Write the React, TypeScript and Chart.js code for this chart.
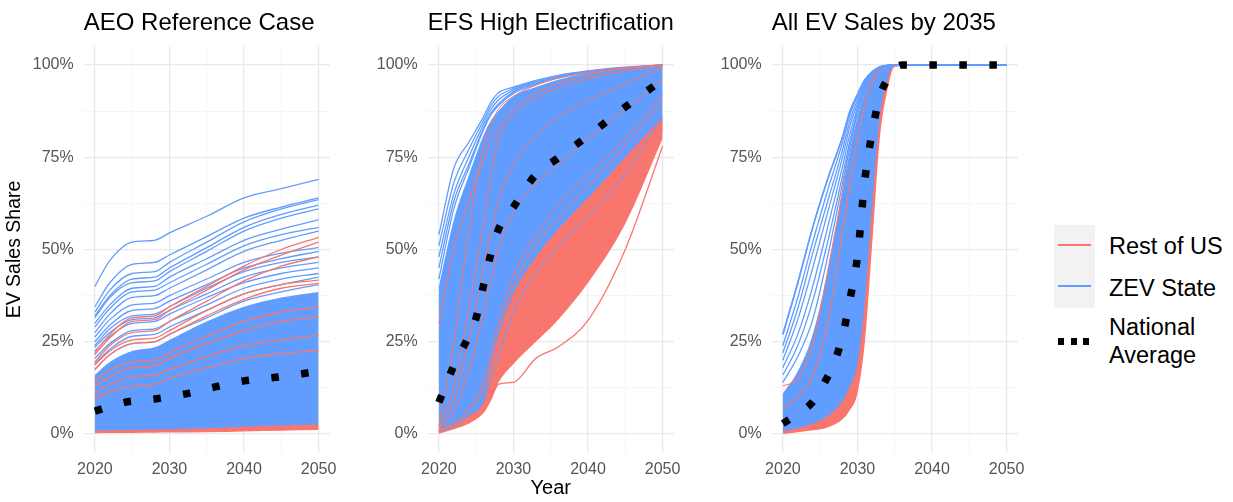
import { useEffect, useRef } from "react";
import { Chart, registerables } from "chart.js";

Chart.register(...registerables);

const RED = "#F8766D";
const BLUE = "#619CFF";
const FONT = "'Liberation Sans', Arial, Helvetica, sans-serif";

// axis ticks; the in-between ones only carry a faint grid line (ggplot minor grid)
const yearTicks = [2020, 2025, 2030, 2035, 2040, 2045, 2050];
const shareTicks = [0, 12.5, 25, 37.5, 50, 62.5, 75, 87.5, 100];

// ---------- AEO Reference Case (values in %) ----------
const aeoYears = [2020, 2022, 2025, 2028, 2030, 2035, 2040, 2045, 2050];
const aeoZevBandTop = [16, 19.5, 22.5, 23.5, 25.5, 30.5, 34.5, 37, 38.5];
const aeoZevBandBottom = [0.6, 0.7, 0.9, 1.0, 1.1, 1.4, 1.8, 2.1, 2.4];
const aeoZevLines = [
  [40, 47, 52, 52.5, 54.5, 59, 64, 66.5, 69],
  [34.5, 41, 46, 46.5, 48.5, 53.5, 58.5, 61.5, 64],
  [33, 39, 43.5, 44, 46.5, 52, 57.5, 61, 63.5],
  [32, 37.5, 42, 42.5, 45, 50.5, 56, 59.5, 62],
  [31.5, 37, 41, 41.5, 44, 49.5, 55, 58.5, 61],
  [30, 35, 39.5, 40, 42.5, 47.5, 52.5, 55.5, 58],
  [29, 34, 38.5, 39, 41, 46, 51, 54, 56],
  [27.5, 32.5, 37, 37.5, 39.5, 44.5, 49.5, 52.5, 55],
  [26.3, 31, 35, 35.5, 37.5, 42, 46.5, 49, 50.5],
  [25, 29.5, 33.5, 34, 36, 40.5, 45, 47.5, 49.5],
  [24, 28.5, 32, 32.5, 34.5, 39.5, 44, 46.5, 48],
  [23.5, 27.5, 31, 31.5, 33.5, 38, 42.5, 45, 46.5],
  [22.5, 26.5, 30, 30.5, 32.5, 37, 41, 43.5, 45],
  [20.5, 24.5, 28, 28.5, 30.5, 35, 39.5, 42, 43.5],
  [19, 23, 26.5, 27, 29, 33.5, 38, 40.5, 42.5],
  [17.5, 21.5, 24.5, 25, 27, 31.5, 36, 38.5, 40.5],
];
const aeoRestLines = [
  [22, 27, 31.5, 32, 34.5, 40, 45.5, 50, 53.3],
  [21.5, 26, 30.5, 31, 33.5, 39, 44.5, 48.5, 52],
  [19.5, 24, 27.5, 28, 30.5, 36, 41.5, 45.5, 48],
  [18.7, 22.5, 25.5, 26, 28, 33.5, 38, 40.5, 41.7],
  [17.5, 21.5, 24.5, 25, 27, 32, 36.5, 39.5, 40.8],
  [14.5, 17.5, 19.5, 20, 22, 26.5, 30.5, 33, 34.4],
  [13, 15.5, 18, 18.5, 20.5, 24.5, 28, 30.5, 31.7],
  [11, 13.5, 15.5, 16, 17.5, 21, 24, 25.5, 26.8],
  [9.5, 11.5, 13, 13.5, 15, 18, 20.5, 21.8, 22.7],
];
const aeoRestFloorTop = [0.9, 1.0, 1.1, 1.2, 1.3, 1.6, 2.0, 2.3, 2.6];
const aeoRestFloorBottom = [0.2, 0.25, 0.3, 0.35, 0.4, 0.5, 0.7, 0.9, 1.1];
const aeoAvgYears = [2020, 2024, 2028, 2032, 2036, 2040, 2044, 2048, 2050];
const aeoAvg = [6.2, 8.6, 9.5, 10.8, 12.7, 14.4, 15.3, 16.4, 17];

// ---------- EFS High Electrification ----------
const efsYears = [2020, 2022, 2024, 2026, 2027, 2028, 2030, 2033, 2036, 2040, 2045, 2050];
const efsZevBandTop = [40, 58, 70, 81, 85, 87.5, 91.5, 94, 96, 97.8, 99, 100];
const efsZevBandBottom = [0.8, 2, 3.6, 7, 10.5, 16, 21, 28, 35, 44, 60, 82];
const efsZevLines = [
  [54, 72, 79, 86, 90, 92.5, 94, 95.8, 97.2, 98.4, 99.4, 100],
  [51, 68, 77, 85, 89, 91.5, 93.6, 95.5, 97, 98.3, 99.3, 100],
  [48, 65, 75, 84, 88, 90.5, 93.2, 95.2, 96.8, 98.2, 99.2, 100],
  [45, 63, 73, 83, 87, 89.5, 92.7, 94.9, 96.6, 98, 99.1, 100],
  [42, 61, 72, 82.5, 86.5, 89, 92.3, 94.6, 96.4, 97.9, 99.1, 100],
];
const efsRestBandTop = [1.2, 2.6, 5, 9, 18, 26, 38, 48, 55.5, 64, 75, 86];
const efsRestBandBottom = [0.3, 1.5, 3, 6, 9.5, 14, 19, 25, 31, 41, 57, 80];
const efsRestStrands = [
  [0.8, 3, 7, 14, 22, 30, 43, 54, 62, 70, 80, 92],
  [0.6, 2.5, 6, 12, 19, 27, 40, 51, 58.5, 67, 78, 90],
];
const efsZevStrand = [0.5, 2.2, 5, 9, 15, 21, 33, 43.5, 51, 59, 70.5, 86];
const efsRestLines = [
  [30, 50, 63, 74, 79, 83, 88, 92.5, 95, 97.3, 99, 100],
  [2, 25, 55, 78, 84, 88, 91.5, 94.5, 96.5, 98, 99.3, 100],
  [1, 13, 34, 57, 70, 80, 86.5, 91, 93.8, 96.2, 98.3, 99.6],
  [0.8, 9, 25, 45, 55, 63, 73, 81, 86, 90.5, 95, 99],
  [0.6, 6, 17, 33, 42, 50, 60, 68, 73, 80, 88, 96],
];
const efsRestOutlier = [0.3, 1.5, 3, 6, 9.5, 13.5, 14, 20.5, 23.6, 30.8, 50, 78];
const efsAvgYears = [2020, 2022, 2024, 2025, 2026, 2027, 2028, 2030, 2033, 2036, 2040, 2045, 2050];
const efsAvg = [8.6, 18.5, 26.5, 31.5, 40.4, 49, 55.5, 61.5, 70.3, 74.8, 80.8, 88.6, 96];

// ---------- All EV Sales by 2035 ----------
const zevYears = [2020, 2022, 2024, 2026, 2028, 2029, 2030, 2031, 2032, 2033, 2034, 2035, 2040, 2045, 2050];
const zevZevBandTop = [11, 17, 27, 44, 66, 77, 86, 92.5, 96.5, 98.8, 99.7, 100, 100, 100, 100];
const zevZevBandBottom = [0.4, 1, 1.8, 3, 6, 9, 14, 30, 57, 83, 94.5, 100, 100, 100, 100];
const zevRestBandTop = [0.8, 1.6, 2.8, 4.8, 9, 13, 19, 36, 63, 86, 96, 100, 100, 100, 100];
const zevRestBandBottom = [0, 0.5, 1, 1.8, 4, 6.5, 11, 25, 52, 80, 93, 99.5, 100, 100, 100];
const zevZevLines = [
  [27, 41, 56, 69, 80.5, 87.5, 92, 96, 98.2, 99.5, 99.9, 100, 100, 100, 100],
  [24, 37, 52, 66, 79, 86.5, 91.5, 95.7, 98, 99.4, 99.9, 100, 100, 100, 100],
  [22, 34, 49, 63, 77, 85, 90.5, 95.2, 97.8, 99.3, 99.9, 100, 100, 100, 100],
  [20, 31, 45, 60, 75, 83.5, 89.5, 94.7, 97.6, 99.2, 99.8, 100, 100, 100, 100],
  [18, 27, 40, 56, 72.5, 81.5, 88.5, 94.2, 97.4, 99.1, 99.8, 100, 100, 100, 100],
  [16, 24, 36, 52, 70, 79.5, 87.5, 93.6, 97.2, 99, 99.8, 100, 100, 100, 100],
  [14, 21, 31, 48, 68, 78, 86.8, 93, 96.9, 98.9, 99.7, 100, 100, 100, 100],
];
const zevRestLines = [
  [13, 15, 24, 44, 66, 79, 87, 93, 96.5, 98.8, 99.7, 100, 100, 100, 100],
  [7, 10, 16, 30, 55, 68, 80, 89, 95, 98.5, 99.7, 100, 100, 100, 100],
];
const zevTopLine = [27, 41, 56, 69, 80.5, 87.5, 92, 96, 98.2, 99.5, 99.9, 100, 100, 100, 100];
const zevAvgYears = [2020, 2022, 2024, 2026, 2027, 2028, 2029, 2030, 2031, 2032, 2033, 2034, 2035, 2036, 2050];
const zevAvg = [2.8, 5.5, 8.7, 15.5, 20, 26.5, 36.5, 48, 69, 82, 91.5, 96, 99, 100, 100];

type Layer =
  | { kind: "band"; top: number[]; bottom: number[]; color: string }
  | { kind: "line"; values: number[]; color: string; width?: number };

type PanelProps = {
  left: number;
  title: string;
  years: number[];
  layers: Layer[]; // bottom layer first
  avgYears: number[];
  avg: number[];
  yTitle?: string;
  xTitle?: string;
};

const lines = (set: number[][], color: string, width?: number): Layer[] =>
  set.map((values) => ({ kind: "line", values, color, width }));

function Panel({ left, title, years, layers, avgYears, avg, yTitle, xTitle }: PanelProps) {
  const canvasRef = useRef<HTMLCanvasElement>(null);

  useEffect(() => {
    if (!canvasRef.current) return;
    const pts = (xs: number[], ys: number[]) => xs.map((x, i) => ({ x, y: ys[i] }));

    const stack: any[] = [];
    layers.forEach((layer) => {
      if (layer.kind === "band") {
        stack.push({ data: pts(years, layer.bottom), borderWidth: 0, borderColor: "rgba(0,0,0,0)", fill: false });
        stack.push({
          data: pts(years, layer.top),
          borderWidth: 0,
          borderColor: "rgba(0,0,0,0)",
          backgroundColor: layer.color,
          fill: "+1",
        });
      } else {
        stack.push({
          data: pts(years, layer.values),
          borderColor: layer.color,
          borderWidth: layer.width ?? 1.3,
          fill: false,
        });
      }
    });
    stack.push({
      data: pts(avgYears, avg),
      borderColor: "#000",
      borderWidth: 7.5,
      borderDash: [7.5, 22.5],
      borderCapStyle: "butt",
      fill: false,
    });
    // chart.js paints dataset 0 last, so flip to put the top layer first
    const datasets = stack.reverse().map((d) => ({
      pointRadius: 0,
      cubicInterpolationMode: "monotone",
      borderJoinStyle: "round",
      ...d,
    }));

    const gridColor = (major: (v: number) => boolean) => (ctx: any) =>
      major(ctx.tick?.value) ? "#e9e9e9" : "#f3f3f3";
    const gridWidth = (major: (v: number) => boolean) => (ctx: any) => (major(ctx.tick?.value) ? 1.3 : 0.8);
    const xMajor = (v: number) => v % 10 === 0;
    const yMajor = (v: number) => v % 25 === 0;

    const chart = new Chart(canvasRef.current, {
      type: "line",
      data: { datasets },
      options: {
        animation: false,
        responsive: false,
        events: [],
        layout: { padding: { left: 0, right: 11.7, top: 0, bottom: 0 } },
        plugins: {
          legend: { display: false },
          tooltip: { enabled: false },
          title: {
            display: true,
            text: title,
            align: "start",
            fullSize: false,
            color: "#000",
            font: { family: FONT, size: 24, weight: "normal", lineHeight: 1.2 },
            padding: { top: 9, bottom: 8.7 },
          },
        },
        scales: {
          x: {
            type: "linear",
            min: 2018.5,
            max: 2051.5,
            afterBuildTicks: (s: any) => {
              s.ticks = yearTicks.map((value) => ({ value }));
            },
            afterFit: (s: any) => {
              s.height = 49.5;
            },
            ticks: {
              callback: (v: any) => (xMajor(Number(v)) ? String(v) : ""),
              color: "#555",
              font: { family: FONT, size: 16 },
              padding: 7,
              maxRotation: 0,
              autoSkip: false,
            },
            grid: { color: gridColor(xMajor), lineWidth: gridWidth(xMajor), drawTicks: false },
            border: { display: false },
            title: {
              display: !!xTitle,
              text: xTitle ?? "",
              color: "#000",
              font: { family: FONT, size: 20 },
              padding: { top: 0, bottom: 1.5 },
            },
          },
          y: {
            type: "linear",
            min: -5,
            max: 105,
            afterBuildTicks: (s: any) => {
              s.ticks = shareTicks.map((value) => ({ value }));
            },
            afterFit: (s: any) => {
              s.width = 83.7;
            },
            ticks: {
              callback: (v: any) => (yMajor(Number(v)) ? `${v}%` : ""),
              color: "#555",
              font: { family: FONT, size: 16 },
              padding: 10,
              autoSkip: false,
            },
            grid: { color: gridColor(yMajor), lineWidth: gridWidth(yMajor), drawTicks: false },
            border: { display: false },
            title: {
              display: !!yTitle,
              text: yTitle ?? "",
              color: "#000",
              font: { family: FONT, size: 19.5 },
              padding: { top: 3.3, bottom: 0 },
            },
          },
        },
      } as any,
    });

    return () => {
      chart.destroy();
    };
  }, []);

  return (
    <canvas
      ref={canvasRef}
      width={344}
      height={502}
      style={{ position: "absolute", left, top: 0, width: 344, height: 502 }}
    />
  );
}

const legendText: React.CSSProperties = {
  position: "absolute",
  left: 1109,
  fontSize: 23.5,
  lineHeight: "28px",
  color: "#000",
  whiteSpace: "nowrap",
};

export default function App() {
  return (
    <div
      style={{
        position: "absolute",
        left: 0,
        top: 0,
        width: 1233,
        height: 502,
        background: "#fff",
        overflow: "hidden",
        fontFamily: FONT,
      }}
    >
      <Panel
        left={0}
        title="AEO Reference Case"
        years={aeoYears}
        yTitle="EV Sales Share"
        layers={[
          { kind: "band", top: aeoZevBandTop, bottom: aeoZevBandBottom, color: BLUE },
          ...lines(aeoZevLines, BLUE),
          ...lines(aeoRestLines, RED),
          { kind: "band", top: aeoRestFloorTop, bottom: aeoRestFloorBottom, color: RED },
        ]}
        avgYears={aeoAvgYears}
        avg={aeoAvg}
      />
      <Panel
        left={344}
        title="EFS High Electrification"
        years={efsYears}
        xTitle="Year"
        layers={[
          { kind: "band", top: efsZevBandTop, bottom: efsZevBandBottom, color: BLUE },
          ...lines(efsZevLines, BLUE),
          ...lines(efsRestStrands, RED, 1),
          { kind: "band", top: efsRestBandTop, bottom: efsRestBandBottom, color: RED },
          { kind: "line", values: efsZevStrand, color: BLUE, width: 1 },
          ...lines(efsRestLines, RED, 1),
          { kind: "line", values: efsRestOutlier, color: RED, width: 1.3 },
        ]}
        avgYears={efsAvgYears}
        avg={efsAvg}
      />
      <Panel
        left={688}
        title="All EV Sales by 2035"
        years={zevYears}
        layers={[
          { kind: "band", top: zevZevBandTop, bottom: zevZevBandBottom, color: BLUE },
          { kind: "band", top: zevRestBandTop, bottom: zevRestBandBottom, color: RED },
          ...lines(zevRestLines, RED, 1.1),
          ...lines(zevZevLines, BLUE),
          { kind: "line", values: zevTopLine, color: BLUE, width: 1.6 },
        ]}
        avgYears={zevAvgYears}
        avg={zevAvg}
      />

      {/* legend */}
      <div style={{ position: "absolute", left: 1054, top: 225, width: 41, height: 83, background: "#f2f2f2" }} />
      <div style={{ position: "absolute", left: 1058, top: 244, width: 33, height: 2, background: RED }} />
      <div style={{ position: "absolute", left: 1058, top: 285, width: 33, height: 2, background: BLUE }} />
      {[1058, 1070.5, 1083].map((x) => (
        <div key={x} style={{ position: "absolute", left: x, top: 338, width: 6, height: 7, background: "#000" }} />
      ))}
      <div style={{ ...legendText, top: 232 }}>Rest of US</div>
      <div style={{ ...legendText, top: 274 }}>ZEV State</div>
      <div style={{ ...legendText, top: 313 }}>
        National
        <br />
        Average
      </div>
    </div>
  );
}
